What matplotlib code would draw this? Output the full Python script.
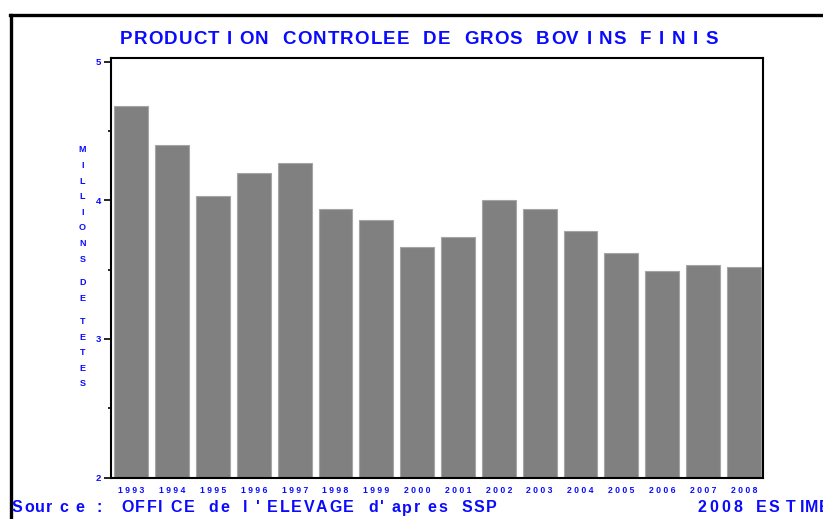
import matplotlib
matplotlib.use("Agg")
import matplotlib.pyplot as plt
from matplotlib.lines import Line2D
from matplotlib.ticker import MultipleLocator
from matplotlib.font_manager import FontProperties

years = [1993, 1994, 1995, 1996, 1997, 1998, 1999, 2000,
         2001, 2002, 2003, 2004, 2005, 2006, 2007, 2008]
values = [4.68, 4.40, 4.03, 4.20, 4.27, 3.94, 3.855, 3.665,
          3.735, 4.00, 3.94, 3.78, 3.62, 3.49, 3.535, 3.52]
ytick_values = [2, 3, 4, 5]
title = "PRODUCT I ON  CONTROLEE  DE  GROS  BOV I NS  F I N I S"
ylabel_words = ["MILLIONS", "DE", "TETES"]
source_left = "Sour c e  :"
source_mid = "OFFI CE  de  l ' ELEVAGE  d' apr es  SSP"
source_right = ["2008", "ES", "T", "IME"]

BLUE = "#0a0aff"
FONT = "Liberation Sans"
W, H = 823, 519

fig = plt.figure(figsize=(W / 100, H / 100), dpi=100)
renderer = fig.canvas.get_renderer()


def char_width(ch, fp):
    if ch == " ":
        w1, _, _ = renderer.get_text_width_height_descent("a a", fp, ismath=False)
        w2, _, _ = renderer.get_text_width_height_descent("aa", fp, ismath=False)
        return w1 - w2
    w, _, _ = renderer.get_text_width_height_descent(ch, fp, ismath=False)
    return w


def tracked_text(x0, y, s, size, x1=None, tracking=0.0):
    """Draw s starting at pixel x0 (left), vertically centred at pixel y (from top).
    If x1 given, the tracking is chosen so the text ends at x1."""
    fp = FontProperties(family=FONT, weight="bold", size=size)
    widths = [char_width(c, fp) for c in s]
    if x1 is not None and len(s) > 1:
        tracking = (x1 - x0 - sum(widths)) / (len(s) - 1)
    x = x0
    for c, w in zip(s, widths):
        if c != " ":
            fig.text(x / W, 1 - y / H, c, ha="left", va="center", color=BLUE,
                     fontproperties=fp)
        x += w + tracking


ax = fig.add_axes([111 / W, 1 - 477.5 / H, (763 - 111) / W, (477.5 - 57.5) / H])

x = list(range(len(years)))
ax.bar(x, values, width=0.83, color="#808080", edgecolor="#a5a5a5", linewidth=0.8, zorder=2)
ax.set_xlim(-0.5, 15.47)
ax.set_ylim(2, 5.03)

ax.set_yticks(ytick_values)
ax.set_yticklabels([str(v) for v in ytick_values], color=BLUE, fontsize=6.8,
                   fontweight="bold", family=FONT)
ax.yaxis.set_minor_locator(MultipleLocator(0.5))
ax.tick_params(axis="y", which="major", length=5, width=1.2, pad=2, color="black")
ax.tick_params(axis="y", which="minor", length=2.5, width=1.2, color="black")

ax.set_xticks(x)
ax.set_xticklabels([" ".join(str(y)) for y in years], color=BLUE, fontsize=6.2,
                   fontweight="bold", family=FONT)
ax.tick_params(axis="x", length=0, pad=6)

for s in ax.spines.values():
    s.set_linewidth(1.5)
    s.set_color("black")

# title
tracked_text(120, 39.5, title, 13.5, x1=718)

# stacked y label
yy = 150.0
for word in ylabel_words:
    for ch in word:
        fig.text(82.5 / W, 1 - yy / H, ch, ha="center", va="center", color=BLUE,
                 fontsize=6.5, fontweight="bold", family=FONT)
        yy += 15.6
    yy += 7.7

# source line
tracked_text(12, 508, source_left, 11.5, x1=102)
tracked_text(121, 508, source_mid, 11.5, x1=497)
right_starts = [698, 756, 786, 800]
right_tracking = [2.8, 1.5, 0.0, 0.3]
for seg, xs, tr in zip(source_right, right_starts, right_tracking):
    tracked_text(xs, 508, seg, 11.5, tracking=tr)

# outer frame
fig.add_artist(Line2D([10 / W, 1.0], [1 - 15 / H, 1 - 15 / H], color="black",
                      linewidth=2.4, transform=fig.transFigure))
fig.add_artist(Line2D([11 / W, 11 / W], [1 - 15 / H, 0], color="black",
                      linewidth=2.4, transform=fig.transFigure))

fig.savefig("out.png", dpi=100)
